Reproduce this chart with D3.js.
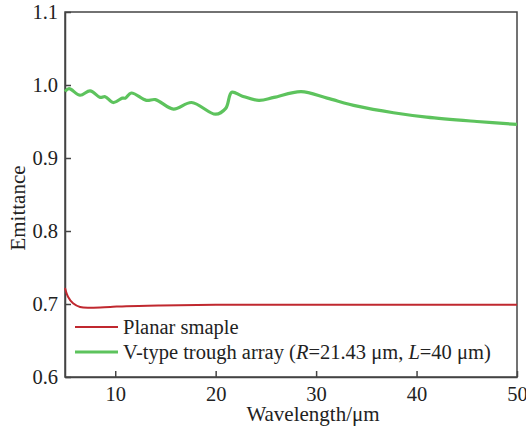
<!DOCTYPE html>
<html>
<head>
<meta charset="utf-8">
<script src="https://cdn.jsdelivr.net/npm/d3@7"></script>
<style>
  body { margin: 0; background: #fff; }
  text { font-family: "Liberation Serif", "Times New Roman", serif; fill: #222; }
</style>
</head>
<body>
<div id="chart"></div>
<script>
// wavelength (um) and emittance
const planarWl = [5.0, 5.3, 5.8, 6.5, 7.5, 9.5, 11.1, 14.5, 20, 30, 40, 50];
const planarEm = [0.722, 0.710, 0.701, 0.696, 0.695, 0.696, 0.697, 0.698, 0.699, 0.699, 0.699, 0.699];

const troughWl = [5.0, 5.4, 6.5, 7.5, 8.5, 9.0, 9.8, 10.7, 11.0, 11.6, 13.1, 14.0, 15.8, 17.6, 20.0, 21.0, 21.6, 22.6, 24.3, 25.8, 28.5, 31.1, 34.1, 37.7, 41.0, 46.0, 50.0];
const troughEm = [0.991, 0.995, 0.986, 0.992, 0.983, 0.984, 0.976, 0.982, 0.982, 0.989, 0.979, 0.980, 0.967, 0.976, 0.960, 0.968, 0.990, 0.985, 0.979, 0.983, 0.991, 0.982, 0.971, 0.962, 0.956, 0.950, 0.946];

const xTicks = [10, 20, 30, 40, 50];
const yTicks = [0.6, 0.7, 0.8, 0.9, 1.0, 1.1];
const legendLabels = ['Planar smaple', 'V-type trough array'];

const fullWidth = 526, fullHeight = 431;
const margin = { top: 12, right: 9, bottom: 54, left: 65 };
const width = fullWidth - margin.left - margin.right,
      height = fullHeight - margin.top - margin.bottom;
const fontSize = 20.5;

const svg = d3.select('#chart').append('svg')
    .attr('width', fullWidth).attr('height', fullHeight);

const g = svg.append('g').attr('transform', `translate(${margin.left},${margin.top})`);

const x = d3.scaleLinear().domain([5, 50]).range([0, width]);
const y = d3.scaleLinear().domain([0.6, 1.1]).range([height, 0]);

// frame
g.append('rect').attr('width', width).attr('height', height)
    .attr('fill', 'none').attr('stroke', '#444').attr('stroke-width', 1.5);

const xAxis = d3.axisBottom(x).tickValues(xTicks).tickSizeInner(-6).tickSizeOuter(0).tickPadding(9);
const yAxis = d3.axisLeft(y).tickValues(yTicks).tickSizeInner(-6).tickSizeOuter(0)
    .tickPadding(7).tickFormat(d3.format('.1f'));

function styleAxis(a) {
    a.select('.domain').attr('stroke', '#444').attr('stroke-width', 1.5);
    a.selectAll('.tick line').attr('stroke', '#444').attr('stroke-width', 1.5);
    a.selectAll('.tick text').attr('font-size', fontSize).attr('font-family', 'Liberation Serif').attr('fill', '#222');
}

g.append('g').attr('transform', `translate(0,${height})`).call(xAxis).call(styleAxis);
g.append('g').call(yAxis).call(styleAxis);

const line = d3.line().x(d => x(d[0])).y(d => y(d[1])).curve(d3.curveCatmullRom.alpha(0.5));

g.append('path').datum(d3.zip(troughWl, troughEm))
    .attr('d', line).attr('fill', 'none').attr('stroke', '#5dc35d').attr('stroke-width', 3.2);

g.append('path').datum(d3.zip(planarWl, planarEm))
    .attr('d', line).attr('fill', 'none').attr('stroke', '#c0282f').attr('stroke-width', 2);

// legend
const legend = g.append('g').attr('transform', 'translate(10,315)');
const legColors = ['#c0282f', '#5dc35d'];
legColors.forEach((c, i) => {
    legend.append('line').attr('x1', 0).attr('x2', 43).attr('y1', i * 25).attr('y2', i * 25)
        .attr('stroke', c).attr('stroke-width', i ? 3.2 : 2);
});
legend.append('text').attr('x', 48).attr('y', 7).attr('font-size', fontSize).text(legendLabels[0]);
const t2 = legend.append('text').attr('x', 48).attr('y', 32).attr('font-size', fontSize);
t2.append('tspan').text(legendLabels[1] + ' (');
t2.append('tspan').attr('font-style', 'italic').text('R');
t2.append('tspan').text('=21.43 μm, ');
t2.append('tspan').attr('font-style', 'italic').text('L');
t2.append('tspan').text('=40 μm)');

// axis titles
svg.append('text').attr('x', 313).attr('y', 421).attr('text-anchor', 'middle')
    .attr('font-size', 21).text('Wavelength/μm');
svg.append('text').attr('transform', 'translate(25,208) rotate(-90)').attr('text-anchor', 'middle')
    .attr('font-size', 21).text('Emittance');
</script>
</body>
</html>
